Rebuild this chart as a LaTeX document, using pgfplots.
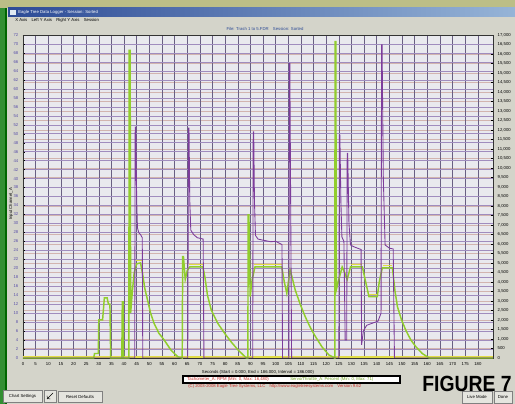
\documentclass[border=0pt]{standalone}
\usepackage{pgfplots}
\pgfplotsset{compat=1.18}
\usepackage{fontspec}
\setmainfont{Liberation Sans}
\definecolor{gr}{RGB}{145,205,45}
\definecolor{pu}{RGB}{125,60,155}
\definecolor{ye}{RGB}{225,220,70}
\definecolor{winbg}{RGB}{212,212,202}
\definecolor{plotbg}{RGB}{233,233,238}
\definecolor{vgrid}{RGB}{105,95,130}
\definecolor{lgrid}{RGB}{160,140,190}
\definecolor{rgrid}{RGB}{210,180,175}
\definecolor{lticks}{RGB}{90,80,170}
\definecolor{khaki}{RGB}{188,190,135}
\definecolor{tb1}{RGB}{45,75,150}
\definecolor{tb2}{RGB}{150,180,215}
\definecolor{crred}{RGB}{200,45,40}
\newcommand{\tf}{\fontsize{3.2}{3.6}\selectfont}
\begin{document}
\begin{tikzpicture}
\path[use as bounding box, clip] (0,0) rectangle (386.25pt,303pt);
\begin{scope}[x=0.75pt,y=0.75pt]
  \fill[winbg] (0,0) rectangle (515,404);
  \fill[khaki] (0,396) rectangle (515,404);
  \fill[left color=tb1,right color=tb2] (8,387) rectangle (515,396);
  \fill[white!70!tb2] (10,389) rectangle (16,394);
  \node[anchor=west,text=white,inner sep=0pt,font=\tf] at (18,391.5) {Eagle Tree Data Logger - Session: Sorted};
  \node[anchor=west,inner sep=0pt,font=\tf] at (15,384) {X Axis\quad Left Y Axis\quad Right Y Axis\quad Session};
  \fill[black!40!green!60!gray] (0,0) rectangle (5,396);
  \fill[black!60!green] (5,0) rectangle (7,396);
  \node[inner sep=0pt,font=\tf,text=tb1] at (265,375.5) {File: Trash 1 to 5.FDR\quad Session: Sorted};
  \node[inner sep=0pt,font=\tf,rotate=90] at (11,200) {Input Channel\_A};
  \node[inner sep=0pt,font=\tf] at (258,32) {Seconds (Start = 0.000, End = 186.000, Interval = 186.000)};
  \draw[black,line width=1pt,fill=white] (183,21) rectangle (400,28);
  \node[anchor=west,inner sep=0pt,font=\tf,text=crred] at (187,24.5) {Tachometer\_A: RPM (Min: 0, Max: 16,480)};
  \node[anchor=west,inner sep=0pt,font=\tf,text=gr!80!black] at (290,24.5) {Servo/Throttle\_A: Percent (Min: 0, Max: 71)};
  \node[anchor=west,inner sep=0pt,font=\tf,text=crred] at (188,18) {(C) 2003-2008 Eagle Tree Systems, LLC\quad http://www.eagletreesystems.com\quad Version 9.62};
  \draw[gray,fill=winbg!60!white] (3,2) rectangle (42,14);
  \node[inner sep=0pt,font=\tf] at (22.5,8) {Chart Settings};
  \draw[gray,fill=winbg!60!white] (44,2) rectangle (56,14);
  \draw[black,->] (53,11) -- (47,5);
  \draw[gray,fill=winbg!60!white] (58,2) rectangle (102,13);
  \node[inner sep=0pt,font=\tf] at (80,7.5) {Reset Defaults};
  \draw[gray,fill=winbg!60!white] (462,1) rectangle (492,13);
  \node[inner sep=0pt,font=\tf] at (477,7) {Live Mode};
  \draw[gray,fill=winbg!60!white] (494,1) rectangle (512,13);
  \node[inner sep=0pt,font=\tf] at (503,7) {Done};
  \node[inner sep=0pt,font=\bfseries\fontsize{16.5}{16.5}\selectfont,xscale=0.88] at (467,20) {FIGURE 7};
\end{scope}
% right axis: background, right grid, right tick labels
\begin{axis}[at={(17.25pt,34.5pt)},anchor=south west,scale only axis,
  width=352.5pt,height=242.25pt,xmin=0,xmax=186,ymin=0,ymax=17000,
  axis x line=none,axis y line*=right,
  axis background/.style={fill=plotbg},
  ytick={0,500,...,17000},ymajorgrids,
  y grid style={rgrid,line width=0.3pt},
  scaled y ticks=false,
  yticklabel style={font=\tf,/pgf/number format/.cd,fixed,1000 sep={,},assume math mode=true},
  major tick length=1.2pt,tick style={black},
  axis line style={black,line width=0.5pt}]
\end{axis}
% left axis: green series
\begin{axis}[at={(17.25pt,34.5pt)},anchor=south west,scale only axis,
  width=352.5pt,height=242.25pt,xmin=0,xmax=186,ymin=0,ymax=72,
  xtick={0,5,...,180},ytick={0,2,...,72},
  xtick pos=bottom,ytick pos=left,
  xmajorgrids,ymajorgrids,
  x grid style={vgrid,line width=0.4pt},
  y grid style={lgrid,line width=0.3pt},
  yticklabel style={font=\tf,text=lticks,/pgf/number format/assume math mode=true},
  xticklabel style={font=\tf,/pgf/number format/assume math mode=true},
  major tick length=1.2pt,tick style={black},
  axis line style={black!80,line width=0.7pt},
  unbounded coords=jump]
\addplot[ye,line width=1.2pt] coordinates {(0,0.25) (186,0.25)};
\addplot[gr,line width=1.1pt] coordinates {
(0,0) (28,0) (28.3,1) (29.8,1) (30,8.5) (31.5,8.5) (32.2,13.4) (33.3,13.4) (33.8,12) (34.4,12) (34.7,0)
(39.1,0) (39.3,12.5) (39.6,12.5) (39.8,0) (41.9,0) (42,68.6) (42.4,68.6) (42.6,10) (43.3,15) (44,19) (45,21) (46.5,21.2)
(47.3,18.9) (48.2,15.5) (49.3,12.9) (50.5,10) (51.9,7.7) (53.8,5.5) (55.9,4) (58.5,1.8) (61.2,0.3) (63,0)
(63.2,22.6) (63.5,22.6) (64.2,17.5) (65,19.5) (66,20.3) (71.2,20.3) (72,18) (73,14) (74.5,10.7) (77,7.8)
(79.8,5.5) (82.5,3.5) (85.1,1.8) (88.4,0) (89.0,0) (89.1,31.9) (89.4,31.9) (89.9,13.7) (90.7,17.5) (91.8,20.3)
(102.4,20.3) (103.4,17) (104.4,14.4) (105.7,19.6) (106.5,18) (107.7,15.2) (109.7,12) (111.7,9.2) (113.7,6.8)
(115.7,4.8) (118.3,2.5) (121,0.7) (123.4,0) (123.5,70.5) (123.8,70.5) (124,15.2) (125,17.5) (126.3,20.3)
(127.3,19) (128.3,17.5) (129.6,20.3) (134.3,20.3) (135.6,17) (136.9,13.7) (140.2,13.7) (141,17) (142.2,20.1)
(146.2,20.1) (147.2,15) (148.2,11.4) (149.8,8.5) (151.5,6.2) (153.5,4) (155.5,2.5) (158,1) (160.8,0) (186,0)};
\addplot[ye,line width=0.5pt] coordinates {
(44.8,21.7) (47,21.7) (47,nan) (65.5,20.8) (71.2,20.8) (71.2,nan) (91.5,20.8) (102.4,20.8) (102.4,nan)
(129.8,20.8) (134.3,20.8) (134.3,nan) (137,14.2) (140,14.2) (140,nan) (142.5,20.6) (146.2,20.6)};
\end{axis}
% hidden axis on right scale: purple series
\begin{axis}[at={(17.25pt,34.5pt)},anchor=south west,scale only axis,
  width=352.5pt,height=242.25pt,xmin=0,xmax=186,ymin=0,ymax=17000,
  axis lines=none,ticks=none]
\addplot[pu,line width=0.65pt] coordinates {
(0,0) (44.2,0) (44.4,12150) (44.6,12150) (45,8250) (45.3,6850) (45.8,6600) (46.5,6500) (47.2,6330) (47.4,0)
(65.2,0) (65.5,12100) (65.7,12100) (66,8250) (66.4,6730) (67.5,6500) (69,6330) (71.3,6260) (71.6,0)
(90.9,0) (91.1,11900) (91.3,11900) (91.6,8250) (92,6450) (93,6260) (95,6200) (98,6120) (100,6140) (102.5,5970) (102.7,0)
(105.2,0) (105.4,15500) (105.6,15500) (106.3,0)
(125.0,0) (125.2,11730) (125.4,11730) (125.8,8250) (126.2,6370) (127,6140) (127.5,950) (128.1,950)
(128.3,10770) (128.5,10770) (129,7080) (129.6,5950) (131,5850) (133.8,5710) (134,690) (134.7,1420) (136,1720)
(138,1820) (140.5,1940) (141.7,2360) (141.9,16480) (142.1,16480) (142.6,9440) (143.3,5950) (145,5780) (146.5,5740) (147,0) (186,0)};
\end{axis}
\end{tikzpicture}
\end{document}
